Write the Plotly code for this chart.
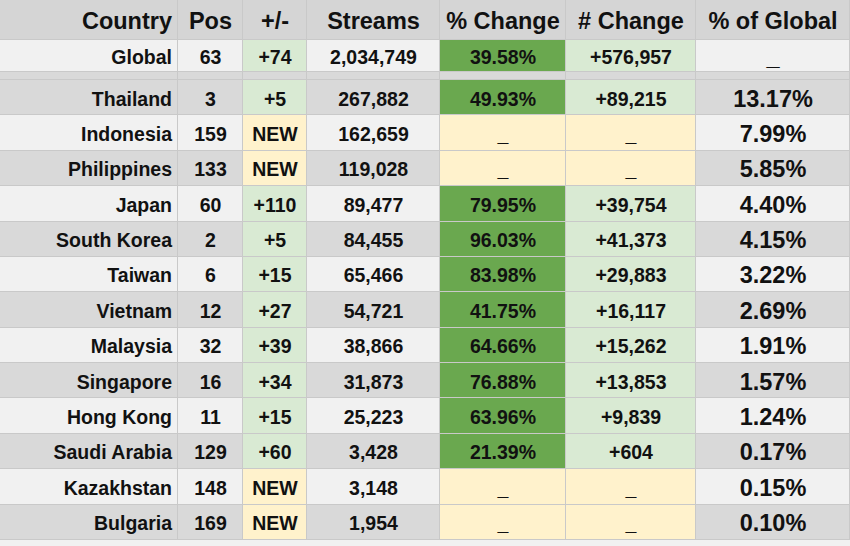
import plotly.graph_objects as go

headers = ["Country", "Pos", "+/-", "Streams", "% Change", "# Change", "% of Global"]

# global row
g_pos = 63
g_move = "+74"
g_streams = 2034749
g_pct_change = 39.58
g_num_change = 576957

countries = ["Thailand", "Indonesia", "Philippines", "Japan", "South Korea", "Taiwan",
             "Vietnam", "Malaysia", "Singapore", "Hong Kong", "Saudi Arabia",
             "Kazakhstan", "Bulgaria"]
pos = [3, 159, 133, 60, 2, 6, 12, 32, 16, 11, 129, 148, 169]
move = ["+5", "NEW", "NEW", "+110", "+5", "+15", "+27", "+39", "+34", "+15", "+60", "NEW", "NEW"]
streams = [267882, 162659, 119028, 89477, 84455, 65466, 54721, 38866, 31873, 25223,
           3428, 3148, 1954]
pct_change = [49.93, None, None, 79.95, 96.03, 83.98, 41.75, 64.66, 76.88, 63.96,
              21.39, None, None]
num_change = [89215, None, None, 39754, 41373, 29883, 16117, 15262, 13853, 9839,
              604, None, None]
pct_global = [13.17, 7.99, 5.85, 4.40, 4.15, 3.22, 2.69, 1.91, 1.57, 1.24, 0.17, 0.15, 0.10]

# cell colours: 0 header, 1 gray row, 2 light row, 3 dark green, 4 light green, 5 yellow
palette = ["#d5d5d5", "#d9d9d9", "#f1f1f1", "#6aa84f", "#d9ead3", "#fff2cc"]
LINE = "#c9c9c9"
font_fam = "Liberation Sans, Arial, sans-serif"

# layout of the grid (pixels)
col_w = [178, 65, 64, 133, 126, 130, 154]
row_h = [40, 32, 8] + [35.4] * len(countries)
text_dy = 3  # nudge text down a bit inside each cell

x_edges = [0]
for w in col_w:
    x_edges.append(x_edges[-1] + w)
y_edges = [0]
for h in row_h:
    y_edges.append(y_edges[-1] + h)


def dash(v, fmt):
    return "_" if v is None else fmt(v)


# colour codes per row
z = [[0] * 7, [2, 2, 4, 2, 3, 4, 2], [1] * 7]
for i in range(len(countries)):
    b = 1 if i % 2 == 0 else 2
    z.append([
        b, b,
        5 if move[i] == "NEW" else 4,
        b,
        5 if pct_change[i] is None else 3,
        5 if num_change[i] is None else 4,
        b,
    ])

n = len(palette)
cscale = []
for k, c in enumerate(palette):
    cscale += [[k / n, c], [(k + 1) / n, c]]

fig = go.Figure()
fig.add_trace(go.Heatmap(
    x=x_edges, y=y_edges, z=z, colorscale=cscale, zmin=-0.5, zmax=n - 0.5,
    showscale=False, xgap=1, ygap=1, hoverinfo="skip",
))

# text columns: header, global row, then countries (the gap row is skipped)
columns = [
    ["Global"] + countries,
    [g_pos] + pos,
    [g_move] + move,
    [f"{g_streams:,}"] + [f"{s:,}" for s in streams],
    [f"{g_pct_change:.2f}%"] + [dash(v, lambda x: f"{x:.2f}%") for v in pct_change],
    [f"+{g_num_change:,}"] + [dash(v, lambda x: f"+{x:,}") for v in num_change],
    ["_"] + [f"{v:.2f}%" for v in pct_global],
]
row_idx = [0, 1] + list(range(3, 3 + len(countries)))
y_mid = [(y_edges[r] + y_edges[r + 1]) / 2 + text_dy for r in row_idx]

for j, h in enumerate(headers):
    texts = [h] + [str(v) for v in columns[j]]
    sizes = [23.5] + ([23.5] * len(columns[j]) if j == 6 else [19.5] * len(columns[j]))
    if j == 0:
        xs = [x_edges[1] - 6] * len(texts)
        tpos = "middle left"
    else:
        xs = [(x_edges[j] + x_edges[j + 1]) / 2] * len(texts)
        tpos = "middle center"
    fig.add_trace(go.Scatter(
        x=xs, y=y_mid, mode="text", text=[f"<b>{t}</b>" for t in texts],
        textposition=tpos, hoverinfo="skip", showlegend=False,
        textfont=dict(family=font_fam, size=sizes, color="#111"),
    ))

fig.update_xaxes(range=[0, 850], visible=False, fixedrange=True)
fig.update_yaxes(range=[y_edges[-1], 0], visible=False, fixedrange=True)
fig.update_layout(
    width=850, height=546,
    margin=dict(l=0, r=0, t=0, b=546 - round(y_edges[-1])),
    paper_bgcolor=palette[2], plot_bgcolor=LINE, showlegend=False,
)
fig.write_html("out.html", config={"displayModeBar": False},
               post_script="document.body.style.margin='0';")
